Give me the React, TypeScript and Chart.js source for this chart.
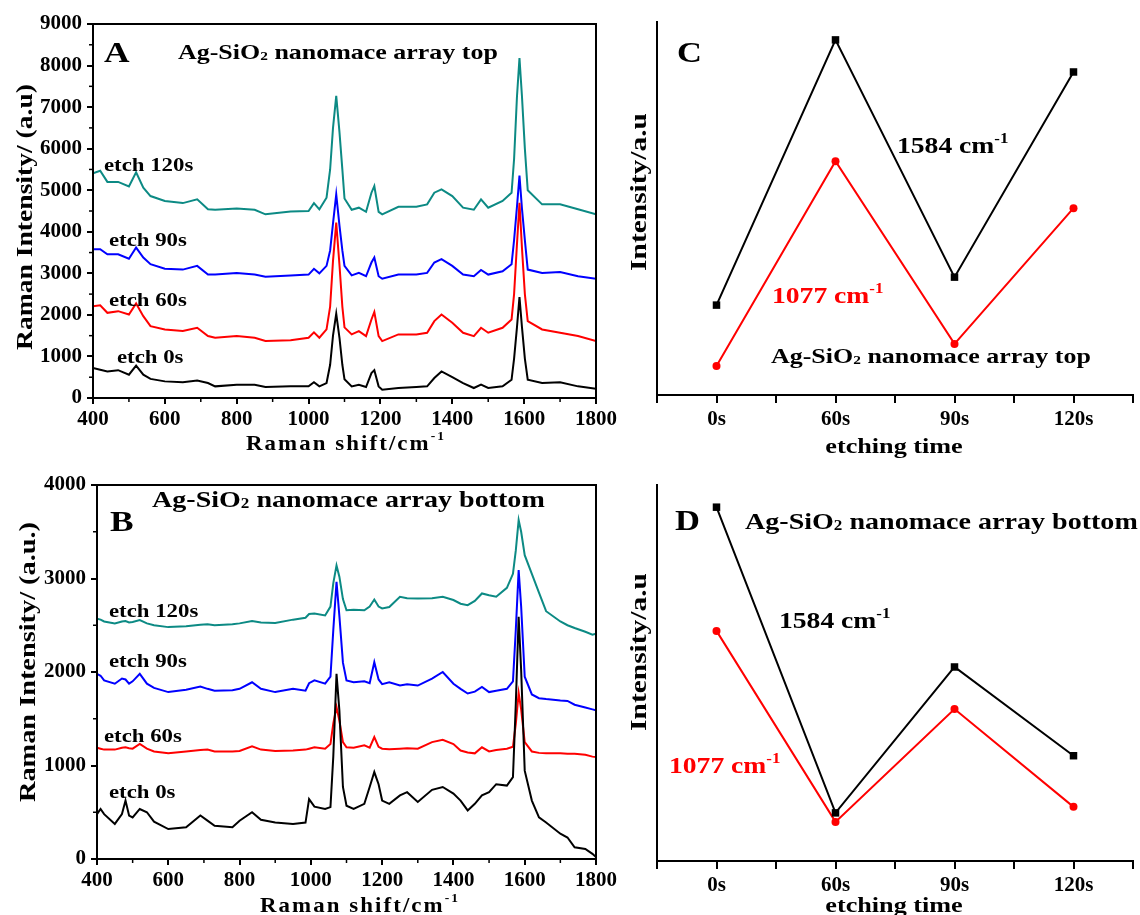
import React, { useEffect, useRef } from 'react';
import { Chart, registerables } from 'chart.js';
Chart.register(...registerables);

const FONT = '"Liberation Serif", "Times New Roman", serif';
const TEAL = '#0c8a84';

// ---------- Panel A (top) ----------
const shiftA = [400,420,440,470,500,520,540,560,600,650,690,720,740,800,850,880,950,1000,1015,1030,1050,1060,1068,1077,1086,1094,1100,1120,1140,1160,1175,1183,1195,1205,1250,1300,1330,1350,1370,1400,1430,1460,1480,1500,1540,1565,1572,1580,1587,1594,1602,1610,1650,1700,1750,1800];
const topEtch0 = [720,680,640,670,560,780,560,460,400,380,420,360,280,320,320,265,280,280,380,280,360,800,1500,2030,1450,800,450,280,320,265,600,670,280,200,240,265,280,480,640,500,360,240,320,240,280,440,950,1700,2430,1700,950,440,360,380,280,220];
const topEtch60 = [2210,2230,2050,2090,2010,2275,1970,1730,1650,1610,1690,1490,1450,1490,1450,1370,1390,1450,1580,1450,1650,2200,3300,4220,3200,2200,1700,1530,1610,1490,1890,2070,1490,1370,1530,1530,1570,1850,2010,1810,1570,1490,1690,1570,1690,1890,2500,3700,4700,3600,2500,1850,1650,1570,1490,1370];
const topEtch90 = [3580,3580,3460,3460,3350,3620,3380,3220,3110,3090,3180,2970,2970,3010,2970,2920,2950,2970,3110,3000,3180,3550,4200,4900,4150,3550,3180,2950,3010,2930,3260,3380,2930,2870,2970,2970,3010,3260,3340,3180,2970,2930,3080,2970,3050,3220,3800,4600,5350,4550,3800,3090,3010,3030,2930,2870];
const topEtch120 = [5410,5470,5200,5200,5090,5430,5060,4860,4740,4690,4780,4540,4530,4560,4530,4420,4490,4500,4690,4540,4820,5500,6500,7270,6400,5500,4800,4530,4580,4480,4940,5100,4480,4420,4600,4600,4660,4940,5020,4860,4580,4530,4780,4580,4740,4940,5750,7250,8180,7250,6000,5000,4660,4660,4540,4420];

// ---------- Panel B (bottom) ----------
const shiftB = [400,410,420,450,470,480,490,500,520,540,560,600,650,690,710,730,780,800,835,860,900,950,985,995,1010,1040,1055,1063,1072,1080,1090,1100,1120,1150,1165,1178,1190,1200,1220,1250,1270,1300,1340,1370,1400,1420,1440,1460,1480,1500,1520,1550,1567,1575,1583,1590,1600,1620,1640,1660,1700,1720,1740,1770,1790,1800];
const botEtch0 = [480,535,480,375,480,625,465,445,535,500,400,320,340,465,410,355,340,410,500,420,390,375,390,640,560,535,555,1100,1980,1590,770,570,535,590,770,930,800,625,590,680,715,610,740,770,700,625,520,590,680,715,800,785,875,1660,2590,2020,945,625,445,390,270,230,125,107,55,20];
const botEtch60 = [1190,1180,1170,1170,1190,1195,1185,1180,1230,1180,1150,1130,1150,1165,1170,1150,1150,1155,1205,1170,1155,1160,1170,1180,1195,1180,1230,1450,1625,1480,1250,1195,1190,1215,1190,1305,1200,1180,1175,1180,1185,1180,1250,1275,1230,1160,1140,1130,1195,1150,1165,1180,1200,1445,1775,1600,1250,1150,1135,1130,1130,1125,1125,1115,1095,1090];
const botEtch90 = [1980,1960,1910,1875,1930,1920,1875,1900,1980,1875,1830,1785,1810,1845,1820,1800,1805,1820,1890,1820,1785,1820,1800,1880,1910,1875,1950,2450,2965,2600,2100,1910,1890,1900,1880,2105,1920,1870,1890,1855,1870,1855,1930,2000,1875,1820,1770,1790,1840,1785,1800,1820,1900,2450,3090,2700,1950,1760,1720,1710,1695,1690,1650,1620,1600,1590];
const botEtch120 = [2570,2560,2540,2520,2540,2545,2530,2535,2555,2520,2500,2480,2490,2505,2510,2500,2510,2520,2545,2530,2525,2560,2580,2620,2625,2605,2700,2950,3140,3020,2780,2660,2665,2660,2700,2775,2700,2680,2695,2805,2790,2785,2790,2805,2770,2730,2715,2760,2840,2820,2805,2900,3050,3300,3625,3500,3250,3050,2850,2650,2540,2500,2470,2430,2400,2410];

// ---------- Panels C, D (trends) ----------
const timeLabels = ['0s', '60s', '90s', '120s'];
const topPeak1584 = [24.1, 95.2, 31.6, 86.6];
const topPeak1077 = [7.8, 62.7, 13.7, 50.1];
const botPeak1584 = [94.1, 12.8, 51.6, 28.0];
const botPeak1077 = [61.2, 10.4, 40.4, 14.4];

const minorShiftTicks = [500, 700, 900, 1100, 1300, 1500, 1700];
const minorTopIntensityTicks = [500, 1500, 2500, 3500, 4500, 5500, 6500, 7500, 8500];
const minorBotIntensityTicks = [500, 1500, 2500, 3500];

type Seg = { t: string; size: number; dy?: number };
type TextItem = { segs: Seg[]; x: number; y: number; color?: string; align?: 'left' | 'center'; rotate?: boolean; spacing?: number; h?: number };

const plain = (t: string, size: number): Seg[] => [{ t, size }];
const cm = (num: string, size: number): Seg[] => [{ t: num + ' cm', size }, { t: '-1', size: Math.round(size * 0.6), dy: -Math.round(size * 0.42) }];
const agsio = (rest: string, size: number): Seg[] => [{ t: 'Ag-SiO', size }, { t: '2', size: Math.round(size * 0.6), dy: 1 }, { t: rest, size }];

function drawRich(ctx: CanvasRenderingContext2D, item: TextItem) {
  ctx.save();
  ctx.fillStyle = item.color || '#000';
  ctx.textAlign = 'left';
  ctx.textBaseline = item.rotate ? 'middle' : 'alphabetic';
  (ctx as any).letterSpacing = (item.spacing || 0) + 'px';
  const h = item.h || 1;
  let total = 0;
  const widths = item.segs.map((s) => {
    ctx.font = `bold ${s.size}px ${FONT}`;
    const w = ctx.measureText(s.t).width;
    total += w;
    return w;
  });
  ctx.translate(item.x, item.y);
  if (item.rotate) ctx.rotate(-Math.PI / 2);
  ctx.scale(h, 1);
  let x = item.align === 'center' ? -total / 2 : 0;
  item.segs.forEach((s, i) => {
    ctx.font = `bold ${s.size}px ${FONT}`;
    ctx.fillText(s.t, x, s.dy || 0);
    x += widths[i];
  });
  ctx.restore();
}

function decoPlugin(texts: TextItem[], box: boolean, minorX: number[], minorY: number[]) {
  return {
    id: 'deco',
    afterDraw(chart: any) {
      const ctx: CanvasRenderingContext2D = chart.ctx;
      const ca = chart.chartArea;
      ctx.save();
      ctx.strokeStyle = '#000';
      if (box) {
        ctx.lineWidth = 2;
        ctx.strokeRect(ca.left, ca.top, ca.right - ca.left, ca.bottom - ca.top);
      }
      ctx.lineWidth = 1.5;
      const xs = chart.scales.x, ys = chart.scales.y;
      minorX.forEach((v) => {
        const px = xs.getPixelForValue(v);
        ctx.beginPath(); ctx.moveTo(px, ca.bottom); ctx.lineTo(px, ca.bottom + 4); ctx.stroke();
      });
      minorY.forEach((v) => {
        const py = ys.getPixelForValue(v);
        ctx.beginPath(); ctx.moveTo(ca.left - 4, py); ctx.lineTo(ca.left, py); ctx.stroke();
      });
      ctx.restore();
      texts.forEach((t) => drawRich(ctx, t));
    },
  };
}

const tickFont = (size: number) => ({ family: FONT, size, weight: 'bold' as const });

function spectrumConfig(shifts: number[], series: { data: number[]; color: string }[], yMax: number, pad: { top: number; right: number }, yWidth: number, xHeight: number, texts: TextItem[], minorY: number[]) {
  return {
    type: 'line' as const,
    data: {
      datasets: series.map((s) => ({
        data: shifts.map((x, i) => ({ x, y: s.data[i] })),
        borderColor: s.color,
        borderWidth: 2,
        pointRadius: 0,
        tension: 0,
        fill: false,
      })),
    },
    options: {
      responsive: false,
      devicePixelRatio: 1,
      animation: false as const,
      layout: { padding: { top: pad.top, right: pad.right, left: 0, bottom: 0 } },
      plugins: { legend: { display: false }, tooltip: { enabled: false } },
      scales: {
        x: {
          type: 'linear' as const, min: 400, max: 1800,
          ticks: { stepSize: 200, font: tickFont(21), color: '#000', padding: 3, maxRotation: 0, autoSkip: false, callback: (v: any) => String(v) },
          grid: { drawOnChartArea: false, drawTicks: true, tickLength: 6, color: '#000', lineWidth: 2 },
          border: { display: true, color: '#000', width: 2 },
          afterFit: (s: any) => { s.height = xHeight; },
        },
        y: {
          type: 'linear' as const, min: 0, max: yMax,
          ticks: { stepSize: 1000, font: tickFont(21), color: '#000', padding: 5, callback: (v: any) => String(v) },
          grid: { drawOnChartArea: false, drawTicks: true, tickLength: 6, color: '#000', lineWidth: 2 },
          border: { display: true, color: '#000', width: 2 },
          afterFit: (s: any) => { s.width = yWidth; },
        },
      },
    },
    plugins: [decoPlugin(texts, true, minorShiftTicks, minorY)],
  };
}

function trendConfig(black: number[], red: number[], pad: { top: number; right: number }, xHeight: number, texts: TextItem[]) {
  return {
    type: 'line' as const,
    data: {
      datasets: [
        {
          data: black.map((y, i) => ({ x: i, y })),
          borderColor: '#000', backgroundColor: '#000', borderWidth: 2,
          pointStyle: 'rect' as const, pointRadius: 5.3, pointBackgroundColor: '#000', pointBorderWidth: 0, tension: 0,
        },
        {
          data: red.map((y, i) => ({ x: i, y })),
          borderColor: '#ff0000', backgroundColor: '#ff0000', borderWidth: 2,
          pointStyle: 'circle' as const, pointRadius: 4, pointBackgroundColor: '#ff0000', pointBorderWidth: 0, tension: 0,
        },
      ],
    },
    options: {
      responsive: false,
      devicePixelRatio: 1,
      animation: false as const,
      layout: { padding: { top: pad.top, right: pad.right, left: 0, bottom: 0 } },
      plugins: { legend: { display: false }, tooltip: { enabled: false } },
      scales: {
        x: {
          type: 'linear' as const, min: -0.5, max: 3.5,
          ticks: {
            stepSize: 0.5, font: tickFont(21), color: '#000', padding: 4, maxRotation: 0, autoSkip: false,
            callback: (v: any) => (Number.isInteger(v) ? timeLabels[v] : ''),
          },
          grid: { drawOnChartArea: false, drawTicks: true, tickLength: 8, color: '#000', lineWidth: 2 },
          border: { display: true, color: '#000', width: 2 },
          afterFit: (s: any) => { s.height = xHeight; },
        },
        y: {
          type: 'linear' as const, min: 0, max: 100,
          ticks: { display: false },
          grid: { display: false, drawTicks: false },
          border: { display: true, color: '#000', width: 2 },
          afterFit: (s: any) => { s.width = 37; },
        },
      },
    },
    plugins: [decoPlugin(texts, false, [], [])],
  };
}

const textsA: TextItem[] = [
  { segs: plain('A', 30), x: 104, y: 62, h: 1.18 },
  { segs: agsio(' nanomace array top', 22), x: 178, y: 59, h: 1.18 },
  { segs: plain('etch 120s', 19), x: 104, y: 171, h: 1.2 },
  { segs: plain('etch 90s', 19), x: 109, y: 246, h: 1.2 },
  { segs: plain('etch 60s', 19), x: 109, y: 306, h: 1.2 },
  { segs: plain('etch 0s', 19), x: 117, y: 363, h: 1.2 },
  { segs: plain('Raman Intensity/ (a.u)', 24), x: 26, y: 217, rotate: true, align: 'center', h: 1.15 },
  { segs: [{ t: 'Raman shift/cm', size: 22 }, { t: '-1', size: 13, dy: -10 }], x: 346, y: 450, align: 'center', spacing: 2, h: 1.04 },
];

const textsB: TextItem[] = [
  { segs: plain('B', 30), x: 110, y: 66, h: 1.18 },
  { segs: agsio(' nanomace array bottom', 23), x: 152, y: 42, h: 1.22 },
  { segs: plain('etch 120s', 19), x: 109, y: 152, h: 1.2 },
  { segs: plain('etch 90s', 19), x: 109, y: 202, h: 1.2 },
  { segs: plain('etch 60s', 19), x: 104, y: 277, h: 1.2 },
  { segs: plain('etch 0s', 19), x: 109, y: 333, h: 1.2 },
  { segs: plain('Raman Intensity/ (a.u.)', 24), x: 29, y: 197, rotate: true, align: 'center', h: 1.18 },
  { segs: [{ t: 'Raman shift/cm', size: 22 }, { t: '-1', size: 13, dy: -10 }], x: 360, y: 447, align: 'center', spacing: 2, h: 1.04 },
];

const textsC: TextItem[] = [
  { segs: plain('C', 30), x: 57, y: 62, h: 1.15 },
  { segs: cm('1584', 23), x: 277, y: 153, h: 1.2 },
  { segs: cm('1077', 23), x: 152, y: 303, color: '#ff0000', h: 1.2 },
  { segs: agsio(' nanomace array top', 22), x: 151, y: 363, h: 1.18 },
  { segs: plain('Intensity/a.u', 23), x: 20, y: 192, rotate: true, align: 'center', h: 1.28 },
  { segs: plain('etching time', 22), x: 274, y: 453, align: 'center', h: 1.19 },
];

const textsD: TextItem[] = [
  { segs: plain('D', 30), x: 55, y: 65, h: 1.15 },
  { segs: agsio(' nanomace array bottom', 23), x: 125, y: 64, h: 1.22 },
  { segs: cm('1584', 23), x: 159, y: 163, h: 1.2 },
  { segs: cm('1077', 23), x: 49, y: 308, color: '#ff0000', h: 1.2 },
  { segs: plain('Intensity/a.u', 23), x: 20, y: 187, rotate: true, align: 'center', h: 1.28 },
  { segs: plain('etching time', 22), x: 274, y: 447, align: 'center', h: 1.19 },
];

function Panel({ left, top, width, height, make }: { left: number; top: number; width: number; height: number; make: () => any }) {
  const ref = useRef<HTMLCanvasElement | null>(null);
  useEffect(() => {
    if (!ref.current) return;
    const chart = new Chart(ref.current, make());
    return () => chart.destroy();
  }, []);
  return (
    <canvas
      ref={ref}
      width={width}
      height={height}
      style={{ position: 'absolute', left, top, width, height }}
    />
  );
}

export default function App() {
  return (
    <div style={{ position: 'absolute', left: 0, top: 0, width: 1140, height: 915, background: '#fff', overflow: 'hidden' }}>
      <Panel left={0} top={0} width={620} height={465} make={() => spectrumConfig(shiftA, [
        { data: topEtch0, color: '#000' },
        { data: topEtch60, color: '#ff0000' },
        { data: topEtch90, color: '#0000ff' },
        { data: topEtch120, color: TEAL },
      ], 9000, { top: 24, right: 24 }, 93, 67, textsA, minorTopIntensityTicks)} />
      <Panel left={0} top={465} width={620} height={450} make={() => spectrumConfig(shiftB, [
        { data: botEtch0, color: '#000' },
        { data: botEtch60, color: '#ff0000' },
        { data: botEtch90, color: '#0000ff' },
        { data: botEtch120, color: TEAL },
      ], 4000, { top: 20, right: 20 }, 97, 56, textsB, minorBotIntensityTicks)} />
      <Panel left={620} top={0} width={520} height={465} make={() => trendConfig(topPeak1584, topPeak1077, { top: 22, right: 7 }, 70, textsC)} />
      <Panel left={620} top={465} width={520} height={450} make={() => trendConfig(botPeak1584, botPeak1077, { top: 20, right: 7 }, 54, textsD)} />
    </div>
  );
}
